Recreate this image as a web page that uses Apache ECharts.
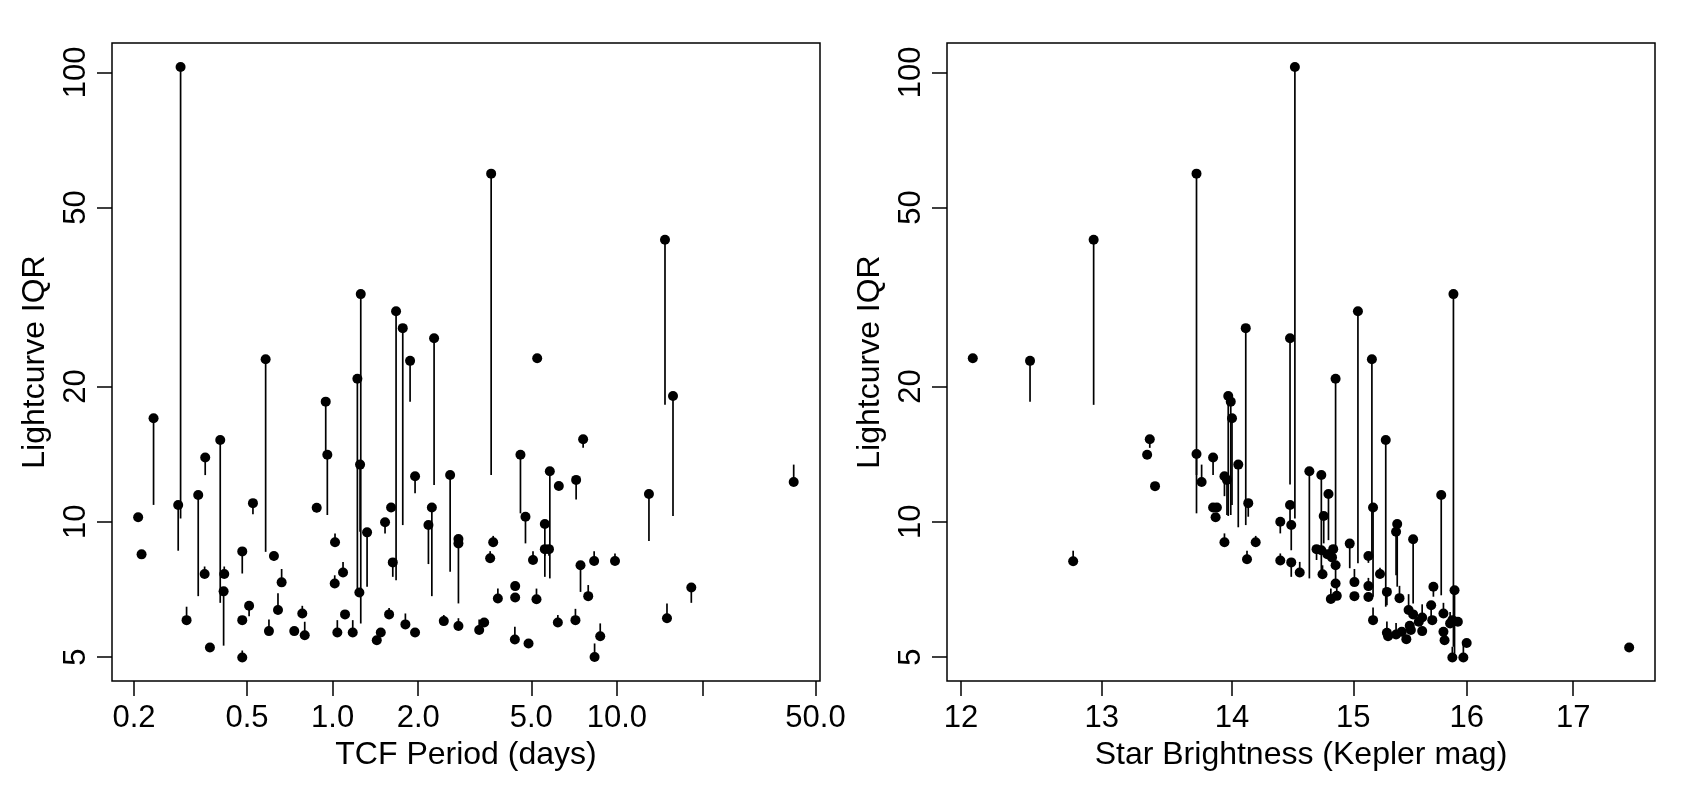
<!DOCTYPE html>
<html>
<head>
<meta charset="utf-8">
<script src="https://cdn.jsdelivr.net/npm/echarts@6/dist/echarts.min.js"></script>
<style>
  html, body { margin: 0; padding: 0; background: #fff; }
  #chart { width: 1698px; height: 794px; }
</style>
</head>
<body>
<div id="chart"></div>
<script>
// left panel: TCF period vs lightcurve IQR (point, and the end of its vertical stem)
const periodDays = [0.2069, 0.2127, 0.2344, 0.2862, 0.2918, 0.3063, 0.3366, 0.3562, 0.3545, 0.3701,
  0.4023, 0.4156, 0.4135, 0.4809, 0.4809, 0.4809, 0.5083, 0.5244, 0.5812, 0.597,
  0.6215, 0.6423, 0.6616, 0.7329, 0.7821, 0.7977, 0.879, 0.9456, 0.958, 1.0196,
  1.0172, 1.0388, 1.088, 1.1057, 1.177, 1.222, 1.256, 1.249, 1.242, 1.322,
  1.43, 1.477, 1.529, 1.58, 1.606, 1.628, 1.672, 1.765, 1.803, 1.873,
  1.95, 1.95, 2.173, 2.234, 2.275, 2.461, 2.591, 2.771, 2.771, 2.771,
  3.278, 3.413, 3.583, 3.612, 3.672, 3.814, 4.388, 4.388, 4.377, 4.58,
  4.77, 4.89, 5.07, 5.215, 5.245, 5.58, 5.58, 5.77, 5.81, 6.2,
  6.25, 7.15, 7.19, 7.45, 7.61, 7.93, 8.32, 8.35, 8.74, 9.85,
  12.97, 14.77, 15.01, 15.76, 18.28, 41.9];
const periodIqr = [10.23, 8.46, 17.0, 10.9, 102.8, 6.04, 11.47, 13.9, 7.65, 5.25,
  15.2, 7.65, 7.0, 8.59, 6.04, 4.99, 6.5, 11.0, 23.0, 5.71,
  8.39, 6.36, 7.33, 5.71, 6.25, 5.59, 10.74, 18.5, 14.1, 9.0,
  7.29, 5.67, 7.71, 6.22, 5.67, 20.8, 32.1, 13.4, 6.96, 9.47,
  5.45, 5.67, 9.97, 6.22, 10.76, 8.12, 29.4, 26.96, 5.91, 22.8,
  5.67, 12.62, 9.83, 10.76, 25.6, 6.01, 12.7, 9.15, 8.95, 5.86,
  5.74, 5.97, 8.29, 59.5, 9.0, 6.75, 7.19, 6.78, 5.47, 14.1,
  10.26, 5.36, 8.22, 6.72, 23.1, 9.88, 8.69, 8.69, 12.95, 5.97,
  12.01, 6.04, 12.39, 8.0, 15.26, 6.83, 8.18, 5.0, 5.56, 8.18,
  11.53, 42.4, 6.1, 19.05, 7.14, 12.26];
const periodIqrEnd = [10.23, 8.46, 10.9, 8.62, 10.17, 6.47, 6.83, 12.7, 7.95, 5.25,
  6.6, 7.95, 5.3, 7.67, 6.04, 5.17, 6.16, 10.39, 8.57, 6.06,
  8.2, 6.93, 7.85, 5.71, 6.5, 5.99, 10.5, 14.1, 10.35, 9.42,
  7.6, 6.04, 8.14, 6.22, 6.04, 7.0, 5.94, 9.5, 6.96, 7.17,
  5.45, 5.67, 9.42, 6.43, 10.76, 7.54, 7.41, 9.83, 6.25, 18.5,
  5.67, 11.57, 8.05, 6.83, 12.07, 6.2, 7.74, 8.95, 6.58, 6.1,
  6.06, 5.97, 8.6, 12.7, 9.3, 7.1, 7.19, 6.78, 5.84, 10.44,
  8.95, 5.36, 8.6, 7.1, 22.6, 7.54, 8.4, 8.4, 7.48, 6.2,
  12.01, 6.4, 11.2, 6.98, 14.6, 7.23, 8.6, 5.36, 5.94, 8.5,
  9.06, 18.2, 6.58, 10.3, 6.6, 13.4];

// right panel: Kepler magnitude vs lightcurve IQR
const kepMag = [12.08, 12.48, 12.79, 12.94, 13.34, 13.36, 13.40, 13.72, 13.72, 13.76,
  13.85, 13.85, 13.88, 13.87, 13.94, 13.96, 13.94, 13.97, 13.99, 14.0,
  14.05, 14.11, 14.13, 14.12, 14.19, 14.39, 14.39, 14.47, 14.47, 14.48,
  14.48, 14.51, 14.55, 14.63, 14.69, 14.73, 14.73, 14.75, 14.74, 14.78,
  14.79, 14.83, 14.82, 14.85, 14.85, 14.85, 14.86, 14.81, 14.97, 15.01,
  15.01, 15.04, 15.13, 15.13, 15.13, 15.16, 15.17, 15.17, 15.23, 15.28,
  15.29, 15.29, 15.30, 15.38, 15.37, 15.40, 15.37, 15.42, 15.46, 15.48,
  15.50, 15.49, 15.52, 15.52, 15.57, 15.60, 15.60, 15.68, 15.69, 15.70,
  15.77, 15.79, 15.79, 15.80, 15.85, 15.87, 15.88, 15.89, 15.92, 15.87,
  15.97, 16.0, 17.55];
const kepIqr = [23.1, 22.8, 8.17, 42.4, 14.1, 15.26, 12.0, 59.5, 14.15, 12.26,
  13.9, 10.76, 10.76, 10.23, 12.62, 12.39, 9.0, 19.05, 18.5, 17.0,
  13.4, 26.96, 11.0, 8.25, 9.0, 10.0, 8.2, 25.6, 10.9, 9.83,
  8.12, 102.8, 7.71, 12.95, 8.69, 12.7, 8.64, 10.3, 7.64, 8.47,
  11.53, 8.69, 8.33, 8.0, 20.8, 7.29, 6.84, 6.73, 8.94, 7.34,
  6.83, 29.4, 8.39, 7.19, 6.8, 23.0, 10.76, 6.04, 7.65, 15.2,
  6.98, 5.66, 5.56, 9.88, 9.5, 6.76, 5.61, 5.69, 5.48, 6.36,
  5.74, 5.87, 6.22, 9.14, 5.99, 6.12, 5.71, 6.52, 6.04, 7.17,
  11.47, 6.25, 5.69, 5.45, 5.94, 6.04, 32.1, 7.04, 5.99, 4.99,
  4.99, 5.37, 5.25];
const kepIqrEnd = [22.6, 18.5, 8.62, 18.2, 14.1, 14.6, 12.0, 12.7, 10.44, 13.4,
  12.7, 10.76, 10.76, 10.23, 11.4, 10.35, 9.42, 10.3, 10.35, 10.9,
  9.72, 9.83, 10.26, 8.62, 9.3, 9.42, 8.5, 12.1, 10.0, 8.64,
  7.54, 10.17, 8.14, 7.48, 8.22, 7.74, 8.64, 8.95, 8.0, 8.47,
  9.1, 8.69, 8.33, 7.35, 8.8, 7.29, 7.2, 7.1, 7.88, 7.85,
  6.83, 8.08, 8.1, 7.5, 6.8, 8.35, 6.81, 6.44, 7.9, 6.47,
  6.52, 6.0, 5.56, 7.17, 7.6, 7.2, 5.95, 5.69, 5.48, 6.9,
  5.74, 5.87, 6.22, 6.58, 5.99, 6.55, 5.71, 6.04, 6.04, 6.81,
  6.86, 6.6, 5.69, 5.45, 6.3, 6.04, 5.27, 5.09, 5.99, 5.27,
  5.36, 5.37, 5.25];

const periodTicks = [0.2, 0.5, 1, 2, 5, 10, 20, 50];
const periodTickLabels = ['0.2', '0.5', '1.0', '2.0', '5.0', '10.0', '', '50.0'];
const magTicks = [12, 13, 14, 15, 16, 17];
const magTickLabels = ['12', '13', '14', '15', '16', '17'];
const iqrTicks = [5, 10, 20, 50, 100];
const iqrTickLabels = ['5', '10', '20', '50', '100'];

const periodRange = [0.1674, 51.85];
const magRange = [11.904, 17.81];
const iqrRange = [4.422, 116.2];

const FONT = 'Liberation Sans, Arial, sans-serif';
const chart = echarts.init(document.getElementById('chart'));

const lookup = (ticks, labels) => v => {
  const i = ticks.findIndex(t => Math.abs(Math.log10(t) - v) < 1e-6);
  return i < 0 ? '' : labels[i];
};

// log axis carrying the data (hidden)
const dataAxis = (gridIndex, range) => ({
  type: 'log', gridIndex, min: range[0], max: range[1], show: false
});

// linear axis in log10 units, used only to draw R-style ticks/labels
const tickAxis = (gridIndex, range, ticks, labels, pos, name, nameOpts, labelOpts) => ({
  type: 'value',
  gridIndex,
  position: pos,
  min: Math.log10(range[0]),
  max: Math.log10(range[1]),
  name,
  nameLocation: 'middle',
  ...nameOpts,
  nameTextStyle: { fontFamily: FONT, fontSize: 32, color: '#000' },
  axisLine: { show: false },
  splitLine: { show: false },
  axisTick: {
    show: true, inside: false, length: 15,
    customValues: ticks.map(Math.log10),
    lineStyle: { color: '#000', width: 1.5 }
  },
  axisLabel: {
    show: true,
    customValues: ticks.map(Math.log10),
    formatter: lookup(ticks, labels),
    fontFamily: FONT, fontSize: 31, color: '#000',
    ...labelOpts
  }
});

const xName = { nameGap: 57 };
const yName = { nameGap: 61, nameRotate: 90 };
const xLabel = { margin: 22 };
const yLabel = { rotate: 90, margin: 20 };

const stems = (xi, yi, xs, ys, ends) => ({
  type: 'custom',
  xAxisIndex: xi, yAxisIndex: yi,
  data: xs.map((x, i) => [x, ys[i], ends[i]]),
  encode: { x: 0, y: [1, 2] },
  silent: true,
  renderItem: (params, api) => {
    const a = api.coord([api.value(0), api.value(1)]);
    const b = api.coord([api.value(0), api.value(2)]);
    return {
      type: 'line',
      shape: { x1: a[0], y1: a[1], x2: b[0], y2: b[1] },
      style: { stroke: '#000', lineWidth: 1.7 }
    };
  }
});

const dots = (xi, yi, xs, ys) => ({
  type: 'scatter',
  xAxisIndex: xi, yAxisIndex: yi,
  data: xs.map((x, i) => [x, ys[i]]),
  symbol: 'circle', symbolSize: 10,
  itemStyle: { color: '#000', opacity: 1 },
  silent: true
});

chart.setOption({
  animation: false,
  backgroundColor: '#fff',
  grid: [
    { left: 112, top: 43, width: 708, height: 638, show: true, borderColor: '#000', borderWidth: 1.5, backgroundColor: 'transparent' },
    { left: 947, top: 43, width: 708, height: 638, show: true, borderColor: '#000', borderWidth: 1.5, backgroundColor: 'transparent' }
  ],
  xAxis: [
    dataAxis(0, periodRange),
    tickAxis(0, periodRange, periodTicks, periodTickLabels, 'bottom', 'TCF Period (days)', xName, xLabel),
    dataAxis(1, magRange),
    tickAxis(1, magRange, magTicks, magTickLabels, 'bottom', 'Star Brightness (Kepler mag)', xName, xLabel)
  ],
  yAxis: [
    dataAxis(0, iqrRange),
    tickAxis(0, iqrRange, iqrTicks, iqrTickLabels, 'left', 'Lightcurve IQR', yName, yLabel),
    dataAxis(1, iqrRange),
    tickAxis(1, iqrRange, iqrTicks, iqrTickLabels, 'left', 'Lightcurve IQR', yName, yLabel)
  ],
  series: [
    stems(0, 0, periodDays, periodIqr, periodIqrEnd),
    dots(0, 0, periodDays, periodIqr),
    stems(2, 2, kepMag, kepIqr, kepIqrEnd),
    dots(2, 2, kepMag, kepIqr)
  ]
});
</script>
</body>
</html>
